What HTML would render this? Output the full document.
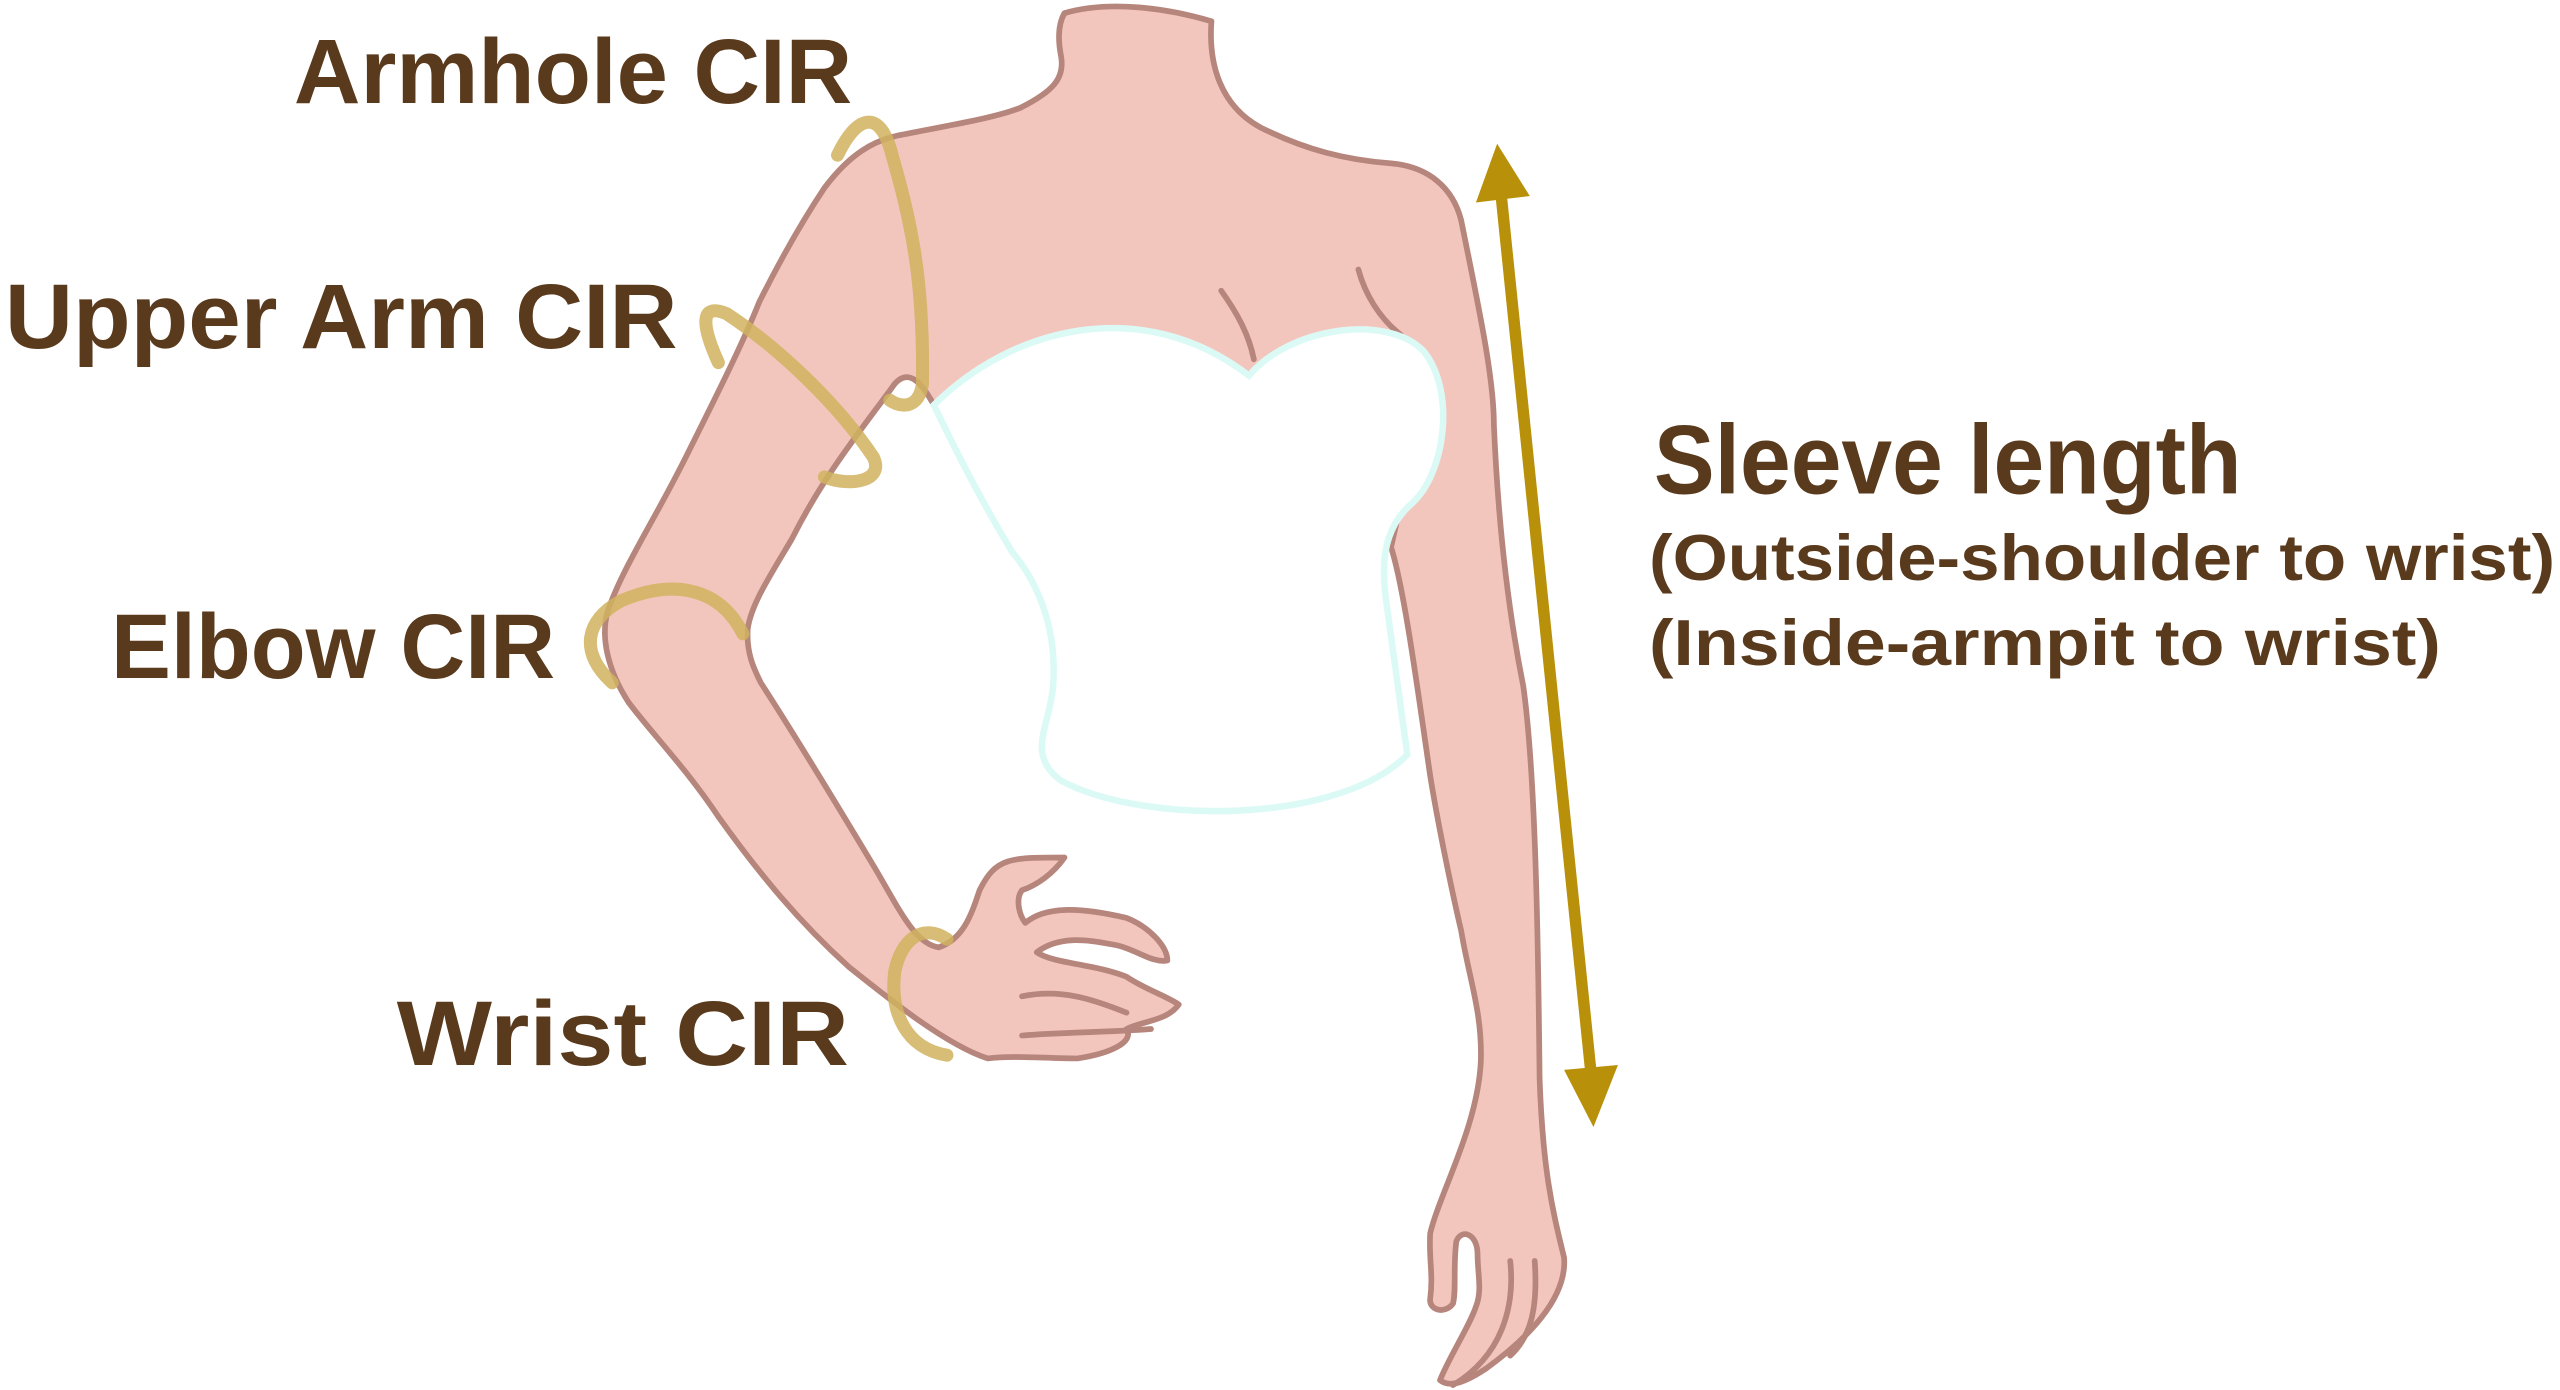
<!DOCTYPE html>
<html><head><meta charset="utf-8"><style>
html,body{margin:0;padding:0;background:#fff;}
svg{display:block;}
text{font-family:"Liberation Sans",sans-serif;fill:#5a3a1c;}
</style></head><body>
<svg width="2560" height="1390" viewBox="0 0 1568 851" preserveAspectRatio="none" xmlns="http://www.w3.org/2000/svg">
<rect width="1568" height="851" fill="#fff"/>
<path d="M652,8 C680,0 715,5 742,13 C740,40 748,65 772,78 C800,92 825,98 852,100 C875,102 890,115 895,135 C905,185 915,230 915,260 C918,330 925,380 933,420 C940,470 942,560 943,660 C945,720 952,745 958,770 C960,795 935,820 910,838 C898,846 888,850 882,845 C888,830 900,812 904,800 C908,790 905,780 905,768 C905,755 895,752 892,760 C890,775 892,790 890,798 C885,805 875,802 876,795 C878,780 875,770 876,755 C882,730 905,690 907,650 C908,620 900,600 895,570 C888,540 880,500 876,475 C868,420 860,360 852,335 L860,300 L765,230 L572,248 C565,235 557,225 548,235 C530,260 505,290 485,330 C472,352 460,370 458,385 C457,400 462,410 466,418 C490,455 520,505 535,530 C550,555 560,578 575,580 C590,575 595,560 600,545 C610,525 618,525 652,525 C645,535 635,542 626,545 C622,550 624,560 628,565 C640,555 660,555 690,562 C705,568 715,580 715,588 C705,590 695,580 680,578 C665,575 648,573 635,583 C645,590 670,590 690,598 C700,605 715,610 722,615 C715,625 700,625 690,630 C695,638 680,645 660,648 C640,648 620,646 605,648 C580,640 545,612 520,592 C490,565 465,535 440,500 C420,470 400,450 385,430 C372,410 368,390 372,375 C380,350 400,320 420,280 C440,240 455,210 465,185 C480,155 495,130 505,115 C520,95 535,85 555,82 C585,76 610,72 625,66 C645,56 652,48 650,35 C648,25 648,15 652,8 Z" fill="#f3c6bd" stroke="#b6857c" stroke-width="3.5" stroke-linejoin="round"/>
<path d="M626,610 C650,605 670,612 690,620 M626,634 C650,632 680,632 705,630 M925,772 C928,800 920,830 890,848 M940,772 C942,800 938,818 925,830 M748,178 C758,192 765,205 768,220 M832,165 C836,180 845,195 858,205" fill="none" stroke="#b6857c" stroke-width="3.5" stroke-linecap="round"/>
<path d="M572,248 C620,200 700,180 765,230 C790,200 850,192 872,215 C892,240 885,290 865,308 C845,325 846,350 850,375 L862,462 C820,505 700,505 650,478 C628,462 643,445 645,420 C648,380 632,352 620,338 C600,305 585,275 572,248 Z" fill="#fff" stroke="#dcfaf5" stroke-width="4"/>
<g fill="none" stroke="#d0b25e" stroke-opacity="0.85" stroke-width="8" stroke-linecap="round">
<path d="M513,95 C525,70 538,68 545,90 C558,135 566,170 565,235 C563,250 552,250 545,245"/>
<path d="M440,222 C430,200 428,185 445,192 C480,215 515,250 535,280 C542,295 520,298 505,292"/>
<path d="M375,418 C355,400 358,380 380,368 C410,355 440,358 455,388"/>
<path d="M580,646 C555,642 545,620 548,595 C552,575 565,565 580,575"/>
</g>
<line x1="919" y1="115" x2="975" y2="662" stroke="#b8900a" stroke-width="7"/>
<polygon points="917,88 904,124 937,120" fill="#b8900a"/>
<polygon points="976,690 958,655 991,652" fill="#b8900a"/>
<g font-weight="bold">
<text x="180" y="63" font-size="56" textLength="342" lengthAdjust="spacingAndGlyphs">Armhole CIR</text>
<text x="3" y="213" font-size="56" textLength="412" lengthAdjust="spacingAndGlyphs">Upper Arm CIR</text>
<text x="68" y="415" font-size="56" textLength="272" lengthAdjust="spacingAndGlyphs">Elbow CIR</text>
<text x="243" y="652" font-size="56" textLength="277" lengthAdjust="spacingAndGlyphs">Wrist CIR</text>
<text x="1013" y="302" font-size="60" textLength="360" lengthAdjust="spacingAndGlyphs">Sleeve length</text>
<text x="1010" y="355" font-size="40" textLength="555" lengthAdjust="spacingAndGlyphs">(Outside-shoulder to wrist)</text>
<text x="1010" y="407" font-size="40" textLength="485" lengthAdjust="spacingAndGlyphs">(Inside-armpit to wrist)</text>
</g>
</svg>
</body></html>
